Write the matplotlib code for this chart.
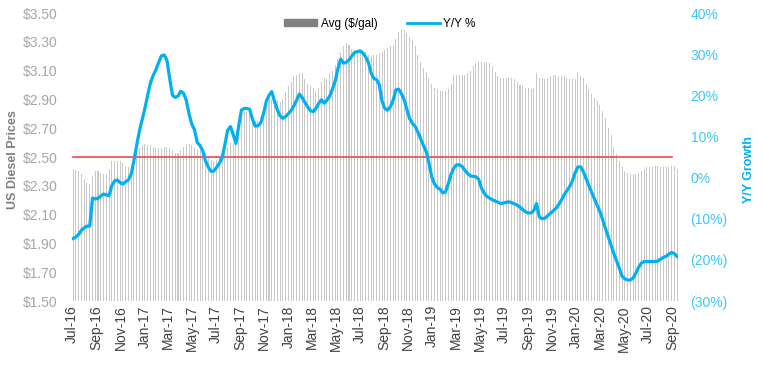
import matplotlib
matplotlib.use("Agg")
import matplotlib.pyplot as plt
import matplotlib.dates as mdates
import matplotlib.patches as mpatches
import matplotlib.lines as mlines
import pandas as pd

plt.rcParams["font.family"] = ["Liberation Sans", "DejaVu Sans"]

# weekly dates, first week of Jul 2016 to mid Sep 2020
weeks = pd.date_range("2016-07-04", periods=220, freq="7D")

# US average diesel price ($/gal), weekly
price = [
    # 2016
    2.42, 2.41, 2.40, 2.38, 2.35, 2.32, 2.31, 2.37, 2.40, 2.40, 2.39, 2.38, 2.38,
    2.42, 2.47, 2.47, 2.47, 2.47, 2.46, 2.44, 2.43, 2.43, 2.48, 2.53, 2.56, 2.58,
    # 2017
    2.59, 2.58, 2.58, 2.57, 2.56, 2.56, 2.56, 2.57, 2.57, 2.56, 2.55, 2.53, 2.53,
    2.55, 2.57, 2.59, 2.59, 2.58, 2.56, 2.55, 2.55, 2.54, 2.53, 2.51, 2.48, 2.47,
    2.48, 2.50, 2.51, 2.53, 2.56, 2.60, 2.60, 2.60, 2.64, 2.82, 2.82, 2.81, 2.80,
    2.79, 2.75, 2.75, 2.78, 2.80, 2.90, 2.91, 2.90, 2.90, 2.89, 2.88, 2.90, 2.95,
    # 2018
    2.99, 3.02, 3.06, 3.07, 3.08, 3.08, 3.04, 3.01, 2.99, 2.98, 2.96, 2.98, 3.02,
    3.05, 3.04, 3.08, 3.10, 3.14, 3.18, 3.23, 3.27, 3.29, 3.28, 3.25, 3.24, 3.23,
    3.23, 3.24, 3.23, 3.21, 3.21, 3.21, 3.21, 3.22, 3.23, 3.24, 3.26, 3.27, 3.28,
    3.32, 3.37, 3.39, 3.38, 3.36, 3.33, 3.31, 3.27, 3.21, 3.16, 3.12, 3.09, 3.05,
    3.01,
    # 2019
    2.98, 2.97, 2.96, 2.96, 2.96, 2.97, 3.01, 3.07, 3.07, 3.07, 3.07, 3.07, 3.08,
    3.10, 3.13, 3.15, 3.16, 3.16, 3.16, 3.16, 3.15, 3.13, 3.09, 3.06, 3.05, 3.05,
    3.05, 3.05, 3.05, 3.04, 3.02, 3.00, 2.99, 2.98, 2.98, 2.97, 2.98, 3.08, 3.05,
    3.05, 3.04, 3.05, 3.06, 3.07, 3.07, 3.06, 3.06, 3.06, 3.05, 3.04, 3.04, 3.04,
    # 2020
    3.08, 3.06, 3.05, 3.01, 2.97, 2.94, 2.91, 2.89, 2.86, 2.82, 2.77, 2.70, 2.65,
    2.57, 2.52, 2.47, 2.43, 2.40, 2.39, 2.38, 2.38, 2.38, 2.39, 2.40, 2.42, 2.43,
    2.43, 2.43, 2.44, 2.44, 2.43, 2.43, 2.43, 2.43, 2.44, 2.44, 2.42,
]

# year-over-year change (%), weekly
yoy = [
    # 2016
    -14.8, -14.4, -13.8, -12.8, -12.2, -11.8, -11.8, -5.0, -5.2, -5.0, -4.5, -4.0, -4.2,
    -4.4, -2.0, -0.8, -0.6, -1.2, -1.6, -1.0, -0.6, 0.8, 4.0, 7.8, 11.3, 14.0,
    # 2017
    16.8, 20.0, 23.0, 24.8, 26.2, 28.0, 29.6, 29.8, 28.5, 24.0, 20.0, 19.5, 19.8,
    21.0, 20.5, 18.8, 15.5, 13.0, 11.6, 8.5, 7.8, 6.5, 4.0, 2.5, 1.5, 1.6,
    2.5, 3.5, 4.8, 8.0, 11.5, 12.4, 10.5, 8.3, 12.5, 16.4, 16.8, 16.8, 16.6,
    14.2, 12.5, 12.6, 13.3, 15.5, 18.5, 20.0, 20.9, 18.5, 16.5, 15.0, 14.4, 14.8,
    # 2018
    15.5, 16.3, 17.4, 18.8, 20.3, 19.5, 18.3, 17.2, 16.3, 16.0, 16.8, 18.0, 18.9,
    18.1, 18.8, 19.8, 21.5, 23.5, 26.5, 28.8, 27.8, 28.0, 28.6, 29.5, 30.4, 30.6,
    30.8, 30.3, 29.4, 28.0, 25.5, 24.1, 23.8, 22.5, 18.5, 16.8, 16.4, 17.2, 18.8,
    21.3, 21.5, 20.4, 18.9, 16.5, 14.3, 13.2, 12.4, 11.0, 9.4, 7.8, 6.3, 3.5,
    0.2,
    # 2019
    -1.6, -2.4, -2.8, -3.7, -3.5, -1.5, 0.8, 2.3, 3.1, 3.1, 2.7, 1.8, 1.0,
    0.4, 0.3, 0.2, -0.4, -2.5, -3.8, -4.6, -5.0, -5.4, -5.7, -6.0, -6.3, -6.2,
    -6.0, -5.9, -6.1, -6.4, -6.7, -7.2, -7.8, -8.3, -8.6, -8.6, -8.0, -6.3, -9.6,
    -10.0, -9.9, -9.3, -8.7, -8.1, -7.5, -6.6, -5.5, -4.2, -3.2, -2.2, -0.8, 1.2,
    # 2020
    2.6, 2.6, 1.4, -0.3, -2.0, -3.6, -5.2, -6.8, -8.3, -10.3, -12.4, -14.4, -16.4,
    -18.4, -20.2, -22.0, -24.0, -24.6, -24.9, -24.9, -24.4, -23.2, -21.8, -20.8, -20.4, -20.4,
    -20.4, -20.4, -20.4, -20.3, -19.8, -19.4, -19.1, -18.6, -18.2, -18.5, -19.2,
]

ref_price = 2.50

cyan = "#00b0f0"
cyan_lt = "#3cc8f5"
grey_txt = "#a6a6a6"

fig = plt.figure(figsize=(7.64, 3.65), dpi=100)
ax = fig.add_axes([72 / 764, 1 - 301 / 365, 606 / 764, 288 / 365])
ax2 = ax.twinx()

ax.bar(weeks, price, width=2.6, color="#c8c8c8", linewidth=0)
ax.plot([weeks[0], weeks[-3]], [ref_price, ref_price], color="#f04848", linewidth=1.2)
ax2.plot(weeks, yoy, color=cyan, linewidth=2.3)

ax.set_ylim(1.5, 3.5)
ax.set_yticks([1.5 + 0.2 * k for k in range(11)])
ax.yaxis.set_major_formatter(plt.FuncFormatter(lambda v, p: f"${v:.2f}"))
ax2.set_ylim(-30, 40)
ax2.set_yticks(range(-30, 41, 10))
ax2.yaxis.set_major_formatter(
    plt.FuncFormatter(lambda v, p: f"({abs(v):.0f}%)" if v < 0 else f"{v:.0f}%"))

ax.set_xlim(pd.Timestamp("2016-07-01"), pd.Timestamp("2020-09-16"))
ax.xaxis.set_major_locator(mdates.MonthLocator(bymonth=[1, 3, 5, 7, 9, 11]))
ax.xaxis.set_major_formatter(mdates.DateFormatter("%b-%y"))
plt.setp(ax.get_xticklabels(), rotation=90)

for a in (ax, ax2):
    for s in a.spines.values():
        s.set_visible(False)
ax.tick_params(axis="y", length=0, labelsize=10, labelcolor=grey_txt, pad=10.5)
ax.tick_params(axis="x", length=0, labelsize=10, labelcolor="#404040", pad=3)
ax2.tick_params(axis="y", length=0, labelsize=10, labelcolor=cyan_lt, pad=9)

ax.set_ylabel("US Diesel Prices", fontsize=9, fontweight="bold", color="#7f7f7f")
ax.yaxis.set_label_coords(-0.088, 0.49)
ax2.set_ylabel("Y/Y Growth", fontsize=9, fontweight="bold", color=cyan)
ax2.yaxis.set_label_coords(1.107, 0.458)

h1 = mpatches.Patch(color="#808080", label="Avg ($/gal)")
h2 = mlines.Line2D([], [], color=cyan, linewidth=2, label="Y/Y %")
ax2.legend(handles=[h1, h2], loc="center", bbox_to_anchor=(0.508, 0.962), ncol=2,
           frameon=False, fontsize=8.5, handlelength=2.8, handleheight=0.5,
           columnspacing=2.5, handletextpad=0.3)

fig.savefig("out.png", dpi=100)
